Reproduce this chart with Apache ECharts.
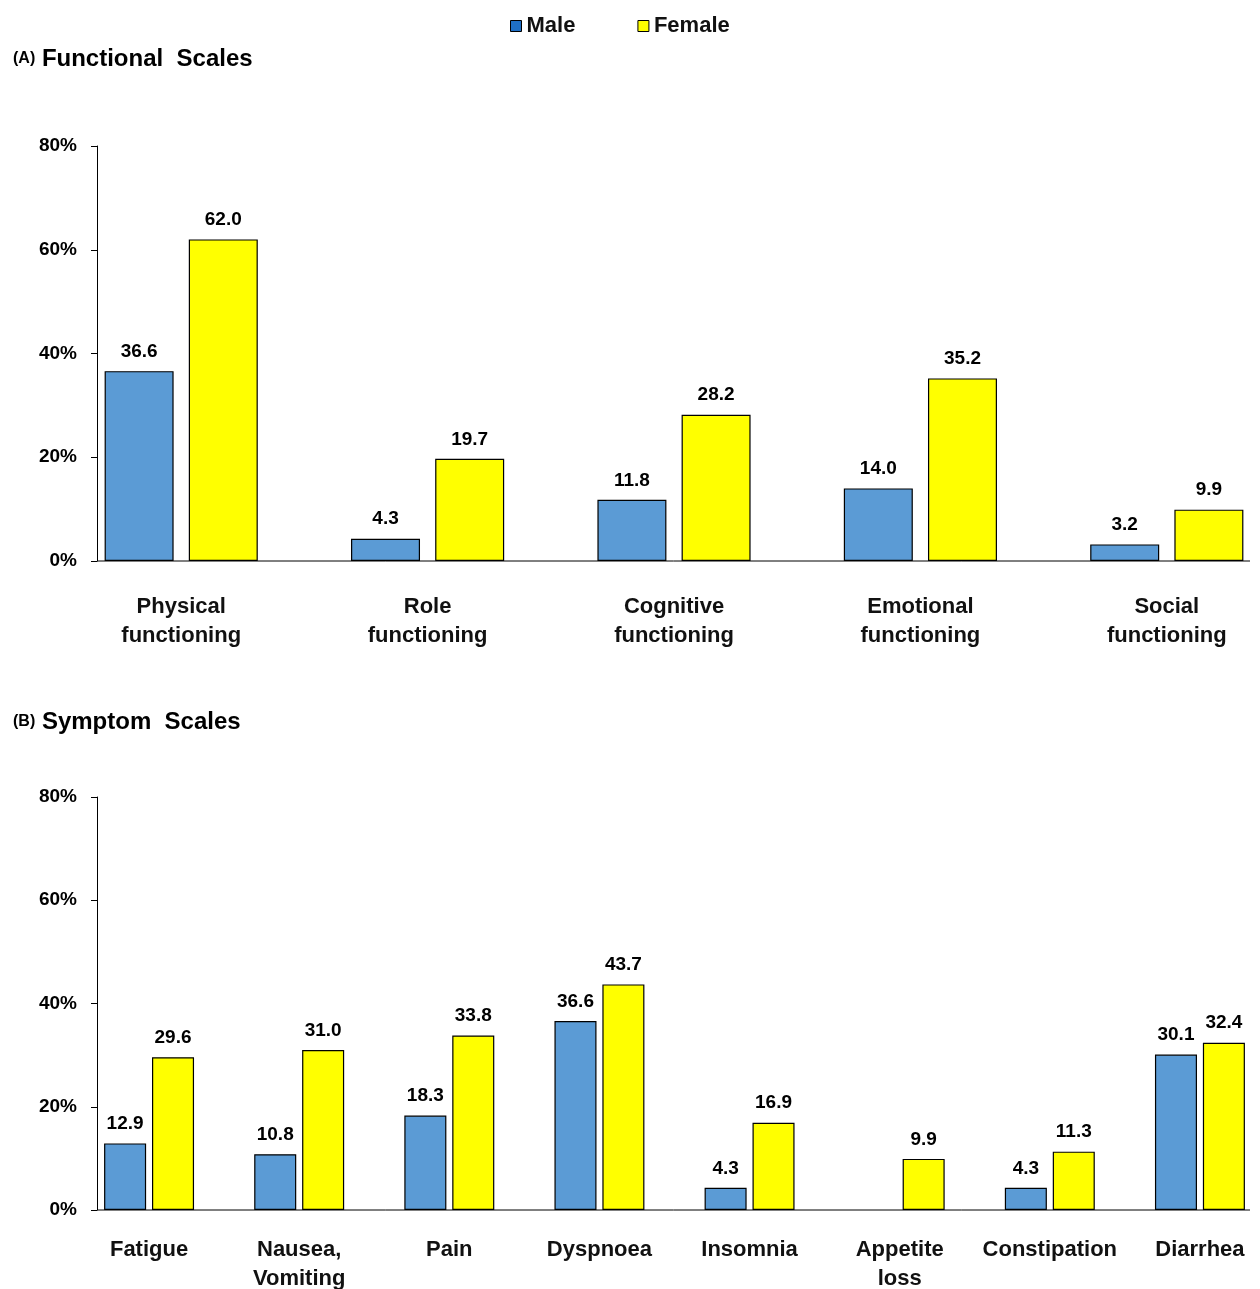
<!DOCTYPE html>
<html><head><meta charset="utf-8">
<script src="https://cdn.jsdelivr.net/npm/echarts@6/dist/echarts.min.js"></script>
<style>html,body{margin:0;padding:0;background:#fff;overflow:hidden}#c{width:1260px;height:1289px}</style>
</head><body><div id="c"></div>
<script>
var funcCats = ['Physical\nfunctioning', 'Role\nfunctioning', 'Cognitive\nfunctioning', 'Emotional\nfunctioning', 'Social\nfunctioning'];
var funcMale = [36.6, 4.3, 11.8, 14.0, 3.2];
var funcFemale = [62.0, 19.7, 28.2, 35.2, 9.9];
var symCats = ['Fatigue', 'Nausea,\nVomiting', 'Pain', 'Dyspnoea', 'Insomnia', 'Appetite\nloss', 'Constipation', 'Diarrhea'];
var symMale = [12.9, 10.8, 18.3, 36.6, 4.3, null, 4.3, 30.1];
var symFemale = [29.6, 31.0, 33.8, 43.7, 16.9, 9.9, 11.3, 32.4];

var FONT = 'Liberation Sans';
var chart = echarts.init(document.getElementById('c'), null, { renderer: 'canvas' });

function yAx(grid, off) {
    return {
        type: 'value', gridIndex: grid, min: 0, max: 80, interval: 20, offset: off,
        axisLine: { show: true, lineStyle: { color: '#000' } },
        axisTick: { show: true, length: 6, lineStyle: { color: '#000' } },
        splitLine: { show: false },
        axisLabel: { formatter: '{value}%', color: '#000', fontWeight: 'bold', fontSize: 19, fontFamily: FONT, margin: 20 }
    };
}
function xAx(grid, cats, margin) {
    return {
        type: 'category', gridIndex: grid, data: cats,
        axisLine: { show: false }, axisTick: { show: false },
        axisLabel: { color: '#111', fontWeight: 'bold', fontSize: 22, fontFamily: FONT, lineHeight: 29, margin: margin, interval: 0 }
    };
}
var lbl = {
    show: true, position: 'top', distance: 10, color: '#000', fontWeight: 'bold', fontSize: 19, fontFamily: FONT,
    formatter: function (p) { return p.value ? p.value.toFixed(1) : ''; }
};
function bar(name, data, idx, color, w, gap) {
    return {
        name: name, type: 'bar', data: data, xAxisIndex: idx, yAxisIndex: idx,
        barWidth: w, barGap: gap,
        itemStyle: { color: color, borderColor: '#000', borderWidth: 1.2 },
        label: lbl
    };
}
var titleStyle = { rich: { a: { fontSize: 16, fontWeight: 'bold', fontFamily: FONT, color: '#000' } }, fontSize: 24, fontWeight: 'bold', fontFamily: FONT, color: '#000' };

var option = {
    animation: false,
    legend: {
        top: 10, left: 505, itemWidth: 11, itemHeight: 11, itemGap: 62,
        textStyle: { fontSize: 22, fontWeight: 'bold', fontFamily: FONT, color: '#111' },
        data: [
            { name: 'Male', icon: 'rect', itemStyle: { color: '#1F6FC5', borderColor: '#000', borderWidth: 1 } },
            { name: 'Female', icon: 'rect', itemStyle: { color: '#FFFF00', borderColor: '#000', borderWidth: 1 } }
        ]
    },
    title: [
        { text: '{a|(A)} Functional  Scales', left: 8, top: 42, textStyle: titleStyle },
        { text: '{a|(B)} Symptom  Scales', left: 8, top: 705, textStyle: titleStyle }
    ],
    grid: [
        { left: 58, width: 1232, top: 146, height: 415, outerBoundsMode: 'none', containLabel: false },
        { left: 74, width: 1201, top: 797, height: 413, outerBoundsMode: 'none', containLabel: false }
    ],
    xAxis: [xAx(0, funcCats, 31), xAx(1, symCats, 25)],
    yAxis: [yAx(0, -39), yAx(1, -23)],
    series: [
        bar('Male', funcMale, 0, '#5B9BD5', '28%', '22%'),
        bar('Female', funcFemale, 0, '#FFFF00', '28%', '22%'),
        bar('Male', symMale, 1, '#5B9BD5', '28%', '14%'),
        bar('Female', symFemale, 1, '#FFFF00', '28%', '14%')
    ],
    graphic: [
        { type: 'line', shape: { x1: 97, y1: 561, x2: 1250, y2: 561 }, style: { stroke: '#000', lineWidth: 1 } },
        { type: 'line', shape: { x1: 97, y1: 1210, x2: 1250, y2: 1210 }, style: { stroke: '#000', lineWidth: 1 } }
    ]
};
chart.setOption(option);
</script></body></html>
